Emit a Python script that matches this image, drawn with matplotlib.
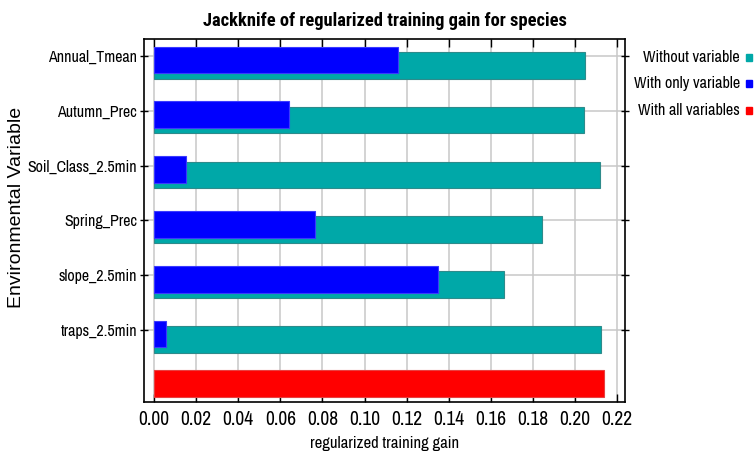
import matplotlib
matplotlib.use("Agg")
import matplotlib.pyplot as plt
from matplotlib import font_manager

# Jackknife results (regularized training gain)
variables = ["Annual_Tmean", "Autumn_Prec", "Soil_Class_2.5min",
             "Spring_Prec", "slope_2.5min", "traps_2.5min"]
gain_without = [0.2048, 0.2043, 0.2119, 0.1841, 0.1662, 0.2124]
gain_only = [0.1161, 0.0641, 0.0152, 0.0765, 0.1349, 0.0055]
gain_all = 0.2138

xticks = [0.00, 0.02, 0.04, 0.06, 0.08, 0.10, 0.12, 0.14, 0.16, 0.18, 0.20, 0.22]
legend_labels = ["Without variable", "With only variable", "With all variables"]

TEAL = "#00A8A8"
BLUE = "#0000FF"
RED = "#FF0000"

installed = {f.name for f in font_manager.fontManager.ttflist}


def first_installed(cands, default="Liberation Sans"):
    for c in cands:
        if c in installed:
            return c
    return default


narrow = first_installed(["Liberation Sans Narrow", "Archivo Narrow", "Roboto Condensed"])
narrow_bold = first_installed(["Liberation Sans Narrow", "Roboto Condensed", "Barlow Condensed", "Archivo Narrow"])
plt.rcParams["font.family"] = [narrow, "DejaVu Sans"]

fig = plt.figure(figsize=(7.54, 4.69), dpi=100)
ax = fig.add_axes([144 / 754, 1 - 401.7 / 469, (625 - 144) / 754, (401.7 - 39.3) / 469])

rows = list(range(len(variables)))
h = 0.487
# teal bar sits slightly below the blue one
ax.barh([r + 0.17 for r in rows], gain_without, height=h, color=TEAL,
        edgecolor="#2E8B8B", linewidth=0.8, zorder=2)
ax.barh([r + 0.073 for r in rows], gain_only, height=h, color=BLUE,
        edgecolor="#3A3AFF", linewidth=0.8, zorder=3)
ax.barh([len(variables) - 0.027], [gain_all], height=h, color=RED,
        edgecolor="#E84040", linewidth=0.8, zorder=3)

ax.set_xlim(-0.00475, 0.2237)
ax.set_ylim(6.308, -0.305)

ax.set_xticks(xticks)
ax.set_xticklabels([f"{v:.2f}" for v in xticks], fontsize=14)
ax.set_yticks(rows)
ax.set_yticklabels(variables, fontsize=11.5)

ax.grid(True, color="#C8C8C8", linewidth=1.1, zorder=0)
ax.set_axisbelow(True)
ax.tick_params(axis="x", direction="in", length=6, top=True, bottom=True,
               width=1, pad=6, colors="black")
ax.tick_params(axis="y", direction="inout", length=6, left=True, right=True,
               width=1, pad=2)
for s in ax.spines.values():
    s.set_linewidth(1.2)
    s.set_color("black")

ax.set_xlabel("regularized training gain", fontsize=12, labelpad=5)
fig.text(17 / 754, 1 - 207 / 469, "Environmental Variable", rotation=90,
         ha="center", va="center", fontsize=14, family=["Liberation Sans", "DejaVu Sans"])
fig.text(385 / 754, 1 - 21 / 469, "Jackknife of regularized training gain for species",
         ha="center", va="center", fontsize=13.3, fontweight="bold",
         family=[narrow_bold, "DejaVu Sans"])

# legend drawn as right-aligned labels with small colour squares
for i, (lab, col) in enumerate(zip(legend_labels, [TEAL, BLUE, RED])):
    y = 1 - (57.3 + 26.4 * i) / 469
    fig.text(740 / 754, y, lab, ha="right", va="center", fontsize=11.6)
    fig.patches.append(plt.Rectangle((745.5 / 754, y - 3.5 / 469), 6 / 754, 7 / 469,
                                     transform=fig.transFigure, color=col, figure=fig))

fig.savefig("out.png", dpi=100)
